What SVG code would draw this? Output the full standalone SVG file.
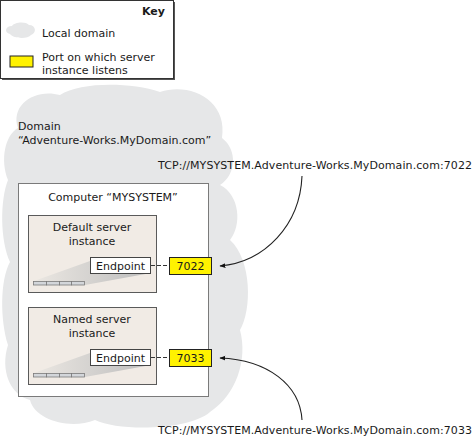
<svg xmlns="http://www.w3.org/2000/svg" width="475" height="437" viewBox="0 0 475 437">
<style>
text{font-family:"DejaVu Sans","Liberation Sans",sans-serif;font-size:11px;fill:#1a1a1a}
.c{text-anchor:middle}
.inst{fill:#f1ebe5;stroke:#5a5a5a;stroke-width:1}
.ep{fill:#fff;stroke:#444;stroke-width:1}
.port{fill:#fff200;stroke:#222;stroke-width:1}
.seg{fill:#d3d6da;stroke:#7a7a7a;stroke-width:0.8}
.conn{fill:none;stroke:#222;stroke-width:1.1}
.dash{stroke:#333;stroke-width:1;stroke-dasharray:4 2}
</style>
<defs>
<marker id="ah" viewBox="0 0 10 10" refX="9" refY="5" markerWidth="6" markerHeight="6" orient="auto-start-reverse" markerUnits="userSpaceOnUse">
<path d="M0,1 L10,5 L0,9 Z" fill="#111"/>
</marker>
<linearGradient id="wg" x1="0" y1="0" x2="1" y2="0">
<stop offset="0" stop-color="#ebe7e2"/>
<stop offset="1" stop-color="#bdbdbd"/>
</linearGradient>
</defs>

<g id="key">
<rect x="2" y="2" width="173" height="78" fill="#555"/>
<rect x="0.5" y="0.5" width="173" height="78" fill="#fff" stroke="#333" stroke-width="1"/>
<text x="165" y="15" text-anchor="end" font-weight="bold">Key</text>
<path d="M10,34 C4,33 5,26 12,26 C14,22 26,21 29,25 C36,25 37,33 31,35 C28,39 14,39 10,34 Z" fill="#e6e7e8"/>
<text x="42" y="37">Local domain</text>
<rect x="10" y="56" width="23" height="11" class="port"/>
<text x="42" y="61">Port on which server</text>
<text x="42" y="74">instance listens</text>
</g>

<g id="domain">
<path d="M18,128 C10,105 35,88 60,95 C80,82 130,82 160,92 C190,82 228,100 222,138 C238,150 236,175 220,185 C240,195 242,225 230,240 C252,260 252,310 240,330 C248,360 236,395 210,412 C190,430 120,432 95,420 C70,430 35,420 30,400 C10,395 0,370 8,345 C0,320 0,280 10,262 C0,240 0,200 8,180 C0,160 5,135 18,128 Z" fill="#e6e7e8"/>
<text x="18" y="130">Domain</text>
<text x="18" y="144">“Adventure-Works.MyDomain.com”</text>
</g>

<g id="computer">
<rect x="18.5" y="183.5" width="190" height="213" fill="#fff" stroke="#7a7a7a"/>
<text x="113" y="201" class="c">Computer “MYSYSTEM”</text>
</g>

<g id="default-instance">
<rect x="28.5" y="215.5" width="128" height="77" class="inst"/>
<text x="92" y="231" class="c">Default server</text>
<text x="92" y="245" class="c">instance</text>
<polygon points="34,281 90,261 90,273 151,273 85,285 34,285" fill="url(#wg)"/>
<rect x="33.5" y="281.5" width="13" height="3.5" class="seg"/>
<rect x="46.5" y="281.5" width="13" height="3.5" class="seg"/>
<rect x="59.5" y="281.5" width="12" height="3.5" class="seg"/>
<rect x="71.5" y="281.5" width="13" height="3.5" class="seg"/>
<rect x="90.5" y="257.5" width="60" height="16" class="ep"/>
<text x="120.5" y="270" class="c">Endpoint</text>
</g>

<g id="port-7022">
<rect x="169.5" y="257.5" width="42" height="17" class="port"/>
<text x="190.5" y="270" class="c">7022</text>
</g>

<g id="named-instance">
<rect x="28.5" y="307.5" width="128" height="77" class="inst"/>
<text x="92" y="323" class="c">Named server</text>
<text x="92" y="337" class="c">instance</text>
<polygon points="34,373 90,353 90,365 151,365 85,377 34,377" fill="url(#wg)"/>
<rect x="33.5" y="373.5" width="13" height="3.5" class="seg"/>
<rect x="46.5" y="373.5" width="13" height="3.5" class="seg"/>
<rect x="59.5" y="373.5" width="12" height="3.5" class="seg"/>
<rect x="71.5" y="373.5" width="13" height="3.5" class="seg"/>
<rect x="90.5" y="349.5" width="60" height="16" class="ep"/>
<text x="120.5" y="362" class="c">Endpoint</text>
</g>

<g id="port-7033">
<rect x="169.5" y="349.5" width="42" height="17" class="port"/>
<text x="190.5" y="362" class="c">7033</text>
</g>

<g id="url-7022">
<text x="158" y="169" textLength="314" lengthAdjust="spacing">TCP://MYSYSTEM.Adventure-Works.MyDomain.com:7022</text>
</g>
<g id="url-7033">
<text x="158" y="434" textLength="314" lengthAdjust="spacing">TCP://MYSYSTEM.Adventure-Works.MyDomain.com:7033</text>
</g>

<g id="connectors">
<line x1="151" y1="265.5" x2="169" y2="265.5" class="dash"/>
<line x1="151" y1="357.5" x2="169" y2="357.5" class="dash"/>
<path d="M302,176 C300,225 265,262 220,266" class="conn" marker-end="url(#ah)"/>
<path d="M302,420 C300,385 268,360 220,358" class="conn" marker-end="url(#ah)"/>
</g>
</svg>
